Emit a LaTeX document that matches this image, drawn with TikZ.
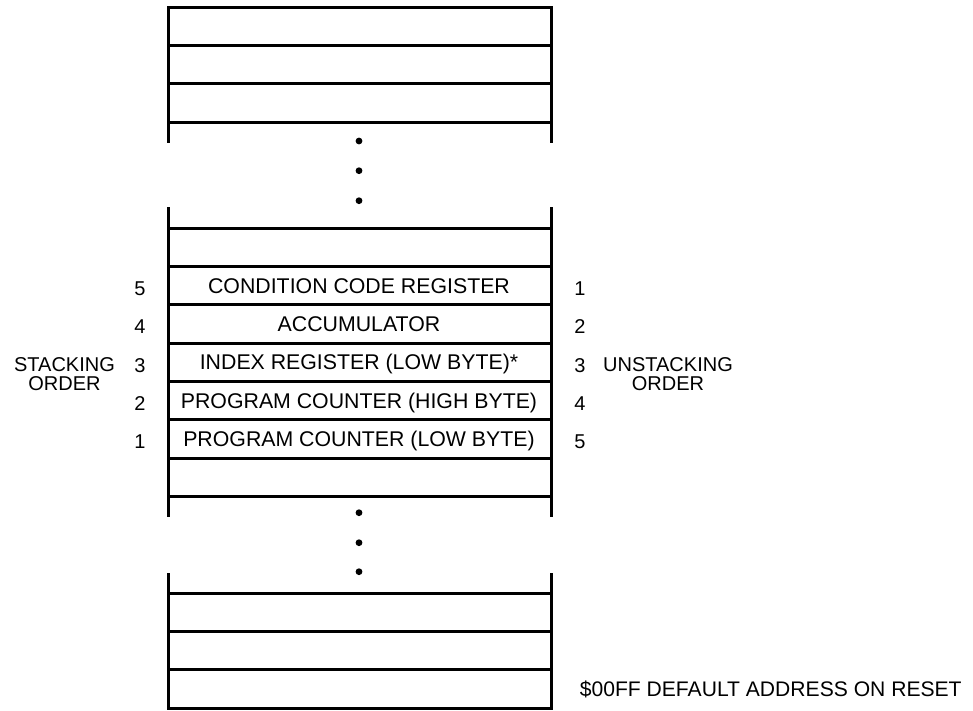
\documentclass[tikz,border=0pt]{standalone}
\usepackage{fontspec}
\setmainfont{Liberation Sans}
\begin{document}
\begin{tikzpicture}[x=1pt,y=-1pt,line width=3pt,
  regtext/.style={font=\fontsize{21.3}{21.3}\selectfont,inner sep=0pt,anchor=base},
  numtext/.style={font=\fontsize{20}{20}\selectfont,inner sep=0pt,anchor=base},
  sidetext/.style={font=\fontsize{20}{18.3}\selectfont,inner sep=0pt,align=center,anchor=center},
  notetext/.style={font=\fontsize{21.1}{21.1}\selectfont,inner sep=0pt,anchor=base west},
  stackdot/.style={fill=black,draw=none}]
\useasboundingbox (0,0) rectangle (973,710);
\def\L{168}
\def\R{551}
\def\M{359}
% top block
\draw (\L,142.7) -- (\L,7.3) -- (\R,7.3) -- (\R,142.7);
\foreach \y in {45.3,83.6,122} \draw (\L,\y) -- (\R,\y);
\foreach \y in {141,170.7,200.7} \fill[stackdot] (\M,\y) circle (3.4);
% middle block
\draw (\L,207) -- (\L,516.7);
\draw (\R,207) -- (\R,516.7);
\foreach \y in {228.3,266.6,304.9,343.2,381.5,419.8,458.1,496.4} \draw (\L,\y) -- (\R,\y);
\foreach \y in {512.7,542.7,571.7} \fill[stackdot] (\M,\y) circle (3.4);
% bottom block
\draw (\L,573.3) -- (\L,708) -- (\R,708) -- (\R,573.3);
\foreach \y in {593.3,631.6,669.9} \draw (\L,\y) -- (\R,\y);
% register texts
\node[regtext] (ccr) at (\M,293.3) {CONDITION CODE REGISTER};
\node[regtext] (acc) at (\M,331.6) {ACCUMULATOR};
\node[regtext] (ixl) at (\M,369.9) {INDEX REGISTER (LOW BYTE)*};
\node[regtext] (pch) at (\M,408.2) {PROGRAM COUNTER (HIGH BYTE)};
\node[regtext] (pcl) at (\M,446.5) {PROGRAM COUNTER (LOW BYTE)};
% stacking numbers
\node[numtext] (s5) at (140,295.5) {5};
\node[numtext] (s4) at (140,333.8) {4};
\node[numtext] (s3) at (140,372.1) {3};
\node[numtext] (s2) at (140,410.4) {2};
\node[numtext] (s1) at (140,448.7) {1};
% unstacking numbers
\node[numtext] (u1) at (580,295.5) {1};
\node[numtext] (u2) at (580,333.8) {2};
\node[numtext] (u3) at (580,372.1) {3};
\node[numtext] (u4) at (580,410.4) {4};
\node[numtext] (u5) at (580,448.7) {5};
% side labels
\node[sidetext] (stacking) at (64.5,374.2) {STACKING\\ORDER};
\node[sidetext] (unstacking) at (668,374.2) {UNSTACKING\\ORDER};
% note
\node[notetext] (reset) at (578.3,696.6) {\$00FF DEFAULT ADDRESS ON RESET};
\end{tikzpicture}
\end{document}
